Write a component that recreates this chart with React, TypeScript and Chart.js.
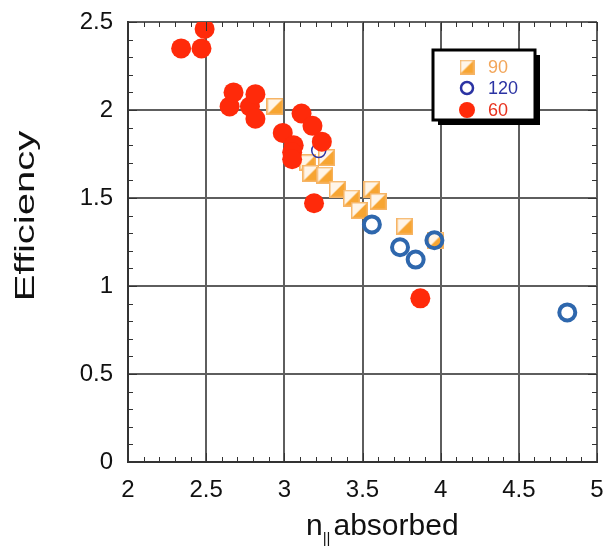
import React, { useEffect, useRef } from "react";
import { Chart, registerables } from "chart.js";
Chart.register(...registerables);

// ---- data ----
const label90 = "90";
const label120 = "120";
const label60 = "60";

const x90 = [2.94, 3.15, 3.17, 3.26, 3.27, 3.34, 3.43, 3.48, 3.56, 3.6, 3.77, 3.97];
const y90 = [2.02, 1.7, 1.64, 1.63, 1.73, 1.55, 1.5, 1.43, 1.55, 1.48, 1.34, 1.26];

const x120 = [3.22, 3.56, 3.74, 3.84, 3.96, 4.81];
const y120 = [1.77, 1.35, 1.22, 1.15, 1.26, 0.85];

const x60 = [2.34, 2.47, 2.49, 2.65, 2.675, 2.78, 2.815, 2.815, 2.99, 3.11, 3.18, 3.06, 3.05, 3.05, 3.24, 3.19, 3.87];
const y60 = [2.35, 2.35, 2.46, 2.02, 2.1, 2.02, 2.09, 1.95, 1.87, 1.98, 1.91, 1.8, 1.76, 1.72, 1.82, 1.47, 0.93];

const xTicks = ["2", "2.5", "3", "3.5", "4", "4.5", "5"];
const yTicks = ["0", "0.5", "1", "1.5", "2", "2.5"];

const FONT = "'Liberation Sans', Arial, Helvetica, sans-serif";
const ORANGE = "#f7a532";
const RED = "#ff2a0a";
const BLUE = "#2e67ad";
const NAVY = "#2b33a3";

function makeSquare(size: number) {
  const c = document.createElement("canvas");
  c.width = size;
  c.height = size;
  const ctx = c.getContext("2d")!;
  ctx.fillStyle = "#fff5e8";
  ctx.fillRect(0, 0, size, size);
  ctx.fillStyle = ORANGE;
  ctx.beginPath();
  ctx.moveTo(size, 0);
  ctx.lineTo(size, size);
  ctx.lineTo(0, size);
  ctx.closePath();
  ctx.fill();
  ctx.strokeStyle = "#f6b465";
  ctx.lineWidth = 1.5;
  ctx.strokeRect(0.75, 0.75, size - 1.5, size - 1.5);
  return c;
}

const pts = (xs: number[], ys: number[]) => xs.map((x, i) => ({ x, y: ys[i] }));

const decorPlugin = {
  id: "decor",
  afterDraw(chart: any) {
    const { ctx, chartArea: a, scales } = chart;
    const xs = scales.x;
    const ys = scales.y;
    ctx.save();
    // minor ticks
    ctx.strokeStyle = "#333";
    ctx.lineWidth = 1;
    for (let v = 2; v <= 5.0001; v += 0.1) {
      const px = Math.round(xs.getPixelForValue(v)) + 0.5;
      const major = Math.abs(v * 2 - Math.round(v * 2)) < 1e-6;
      const len = major ? 9 : 5;
      ctx.beginPath();
      ctx.moveTo(px, a.bottom);
      ctx.lineTo(px, a.bottom - len);
      ctx.moveTo(px, a.top);
      ctx.lineTo(px, a.top + len);
      ctx.stroke();
    }
    for (let v = 0; v <= 2.5001; v += 0.1) {
      const py = Math.round(ys.getPixelForValue(v)) + 0.5;
      const major = Math.abs(v * 2 - Math.round(v * 2)) < 1e-6;
      const len = major ? 9 : 5;
      ctx.beginPath();
      ctx.moveTo(a.left, py);
      ctx.lineTo(a.left + len, py);
      ctx.moveTo(a.right, py);
      ctx.lineTo(a.right - len, py);
      ctx.stroke();
    }

    // legend
    const bx = 433, by = 50, bw = 102, bh = 70;
    ctx.fillStyle = "#000";
    ctx.fillRect(bx + 5, by + 5, bw, bh);
    ctx.fillStyle = "#fff";
    ctx.fillRect(bx, by, bw, bh);
    ctx.strokeStyle = "#000";
    ctx.lineWidth = 3;
    ctx.strokeRect(bx, by, bw, bh);
    const ds = chart.data.datasets;
    const items = [
      { label: ds[0].label, color: "#f2a65a", type: "sq", y: 67 },
      { label: ds[1].label, color: NAVY, type: "ring", y: 88 },
      { label: ds[2].label, color: "#e8321e", type: "dot", y: 110 },
    ];
    const sq = makeSquare(15);
    ctx.font = `18px ${FONT}`;
    ctx.textBaseline = "middle";
    ctx.textAlign = "left";
    for (const it of items) {
      const cx = 467;
      if (it.type === "sq") {
        ctx.drawImage(sq, cx - 7.5, it.y - 7.5);
      } else if (it.type === "ring") {
        ctx.beginPath();
        ctx.arc(cx, it.y, 6, 0, Math.PI * 2);
        ctx.strokeStyle = NAVY;
        ctx.lineWidth = 2.5;
        ctx.stroke();
      } else {
        ctx.beginPath();
        ctx.arc(cx, it.y, 8, 0, Math.PI * 2);
        ctx.fillStyle = RED;
        ctx.fill();
      }
      ctx.fillStyle = it.color;
      ctx.fillText(it.label, 488, it.y + 1);
    }

    // y title, stretched along its length
    ctx.fillStyle = "#111";
    ctx.save();
    ctx.translate(27, 216);
    ctx.rotate(-Math.PI / 2);
    ctx.scale(1.48, 1);
    ctx.font = `27px ${FONT}`;
    ctx.textAlign = "center";
    ctx.textBaseline = "middle";
    ctx.fillText("Efficiency", 0, 0);
    ctx.restore();

    // x title: n with subscript || then "absorbed"
    ctx.font = `30px ${FONT}`;
    ctx.textAlign = "left";
    ctx.textBaseline = "alphabetic";
    ctx.fillStyle = "#111";
    const base = 535;
    let x = 306;
    ctx.fillText("n", x, base);
    x += ctx.measureText("n").width;
    ctx.font = `15px ${FONT}`;
    ctx.fillText("||", x, base + 8);
    x += ctx.measureText("||").width + 3;
    ctx.font = `30px ${FONT}`;
    ctx.fillText("absorbed", x, base);
    ctx.restore();
  },
};

export default function App() {
  const ref = useRef<HTMLCanvasElement>(null);
  useEffect(() => {
    const canvas = ref.current!;
    const square = makeSquare(17);
    const chart = new Chart(canvas, {
      type: "scatter",
      data: {
        datasets: [
          {
            label: label90,
            data: pts(x90, y90),
            pointStyle: square as any,
            pointRadius: 9,
            order: 2,
          },
          {
            label: label120,
            data: pts(x120, y120),
            pointStyle: "circle",
            pointRadius: [7, 8, 8, 8, 8, 8],
            pointBorderWidth: [1.5, 4, 4, 4, 4, 4],
            pointBorderColor: [NAVY, BLUE, BLUE, BLUE, BLUE, BLUE],
            pointBackgroundColor: "rgba(255,255,255,0)",
            order: 1,
          },
          {
            label: label60,
            data: pts(x60, y60),
            pointStyle: "circle",
            pointRadius: 10,
            pointBorderWidth: 0,
            pointBackgroundColor: RED,
            pointBorderColor: RED,
            order: 0,
          },
        ],
      },
      options: {
        responsive: false,
        animation: false,
        events: [],
        layout: { autoPadding: false, padding: { left: 0, right: 8, top: 22, bottom: 0 } },
        plugins: { legend: { display: false }, tooltip: { enabled: false } },
        scales: {
          x: {
            type: "linear",
            min: 2,
            max: 5,
            afterFit: (s: any) => {
              s.height = 84;
              s.paddingLeft = 0;
              s.paddingRight = 0;
            },
            afterBuildTicks: (s: any) => {
              s.ticks = xTicks.map((t) => ({ value: parseFloat(t) }));
            },
            ticks: {
              padding: 14,
              color: "#111",
              font: { family: FONT, size: 24 },
              maxRotation: 0,
              autoSkip: false,
              callback: (v: any) => xTicks.find((t) => Math.abs(parseFloat(t) - v) < 1e-6) ?? "",
            },
            grid: { color: "#5e5e5e", lineWidth: 2, drawTicks: false },
            border: { display: true, color: "#333", width: 2 },
          },
          y: {
            type: "linear",
            min: 0,
            max: 2.5,
            afterFit: (s: any) => {
              s.width = 128;
              s.paddingTop = 0;
              s.paddingBottom = 0;
            },
            afterBuildTicks: (s: any) => {
              s.ticks = yTicks.map((t) => ({ value: parseFloat(t) }));
            },
            ticks: {
              padding: 15,
              color: "#111",
              font: { family: FONT, size: 24 },
              autoSkip: false,
              callback: (v: any) => yTicks.find((t) => Math.abs(parseFloat(t) - v) < 1e-6) ?? "",
            },
            grid: { color: "#5e5e5e", lineWidth: 2, drawTicks: false },
            border: { display: true, color: "#333", width: 2 },
          },
        },
      },
      plugins: [decorPlugin],
    });
    return () => chart.destroy();
  }, []);
  return (
    <div style={{ position: "absolute", left: 0, top: 0, width: 605, height: 546, background: "#fff" }}>
      <canvas ref={ref} width={605} height={546} />
    </div>
  );
}
